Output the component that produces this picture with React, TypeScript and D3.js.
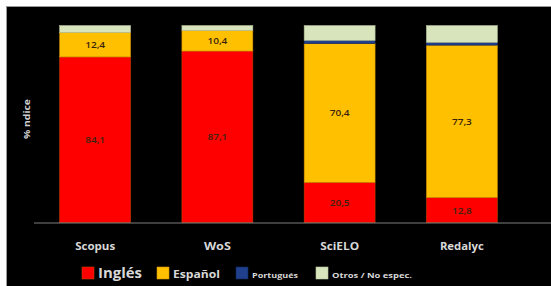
import React from 'react';
import * as d3 from 'd3';

const categories = ['Scopus', 'WoS', 'SciELO', 'Redalyc'];
const ingles = [84.1, 87.1, 20.5, 12.8];
const espanol = [12.4, 10.4, 70.4, 77.3];
const portugues = [0, 0, 1.6, 1.4];
const otros = [3.5, 2.5, 7.5, 8.5];

const seriesKeys = ['Inglés', 'Español', 'Portugués', 'Otros / No espec.'];
const seriesColors = ['#ff0000', '#ffc000', '#203f8c', '#d8e4bc'];
const seriesStroke = ['#c04000', '#d09000', '#10285c', '#b8c49c'];
const legendFont = [14, 10.5, 7, 7.5];
const legendWidth = [44, 47, 46, 80];
const catWidth = [40, 27, 39, 44];

const W = 551;
const H = 286;

export default function App() {
  const rows = categories.map((c, i) => ({
    cat: c,
    'Inglés': ingles[i],
    'Español': espanol[i],
    'Portugués': portugues[i],
    'Otros / No espec.': otros[i],
  }));
  const stacked = d3.stack<any>().keys(seriesKeys)(rows);

  const x = d3.scaleBand().domain(categories).range([34, 523]).paddingInner(0.42).paddingOuter(0.21);
  const y = d3.scaleLinear().domain([0, 100]).range([222.7, 25.6]);

  const labelValues = [ingles, espanol];

  // legend layout
  const legendX = [82, 157, 236, 316];

  return (
    <svg width={W} height={H} style={{ position: 'absolute', left: 0, top: 0, background: '#fff' }}
      fontFamily="'Open Sans', Lato, sans-serif">
      <rect x={6} y={6} width={W - 6} height={H - 6} fill="#000" />
      <line x1={6} x2={W} y1={6.5} y2={6.5} stroke="#999" strokeWidth={1} />
      <line x1={6.5} x2={6.5} y1={6} y2={H} stroke="#999" strokeWidth={1} />

      {stacked.map((s, si) => (
        <g key={s.key}>
          {s.map((d, i) => {
            const h = y(d[0]) - y(d[1]);
            if (h <= 0) return null;
            return (
              <rect key={i} x={x(categories[i])!} y={y(d[1])} width={x.bandwidth()} height={h}
                fill={seriesColors[si]} stroke={seriesStroke[si]} strokeWidth={0.6} />
            );
          })}
        </g>
      ))}

      {labelValues.map((vals, si) =>
        stacked[si].map((d, i) => (
          <text key={si + '-' + i} x={x(categories[i])! + x.bandwidth() / 2} y={(y(d[0]) + y(d[1])) / 2 + 3.5}
            textAnchor="middle" fontSize={9} fill="#3a2410" fontWeight="600"
            textLength={20} lengthAdjust="spacingAndGlyphs">
            {String(vals[i]).replace('.', ',')}
          </text>
        ))
      )}

      <line x1={34} x2={W} y1={223} y2={223} stroke="#7f7f7f" strokeWidth={1.2} />

      {categories.map((c, i) => (
        <text key={c} x={x(c)! + x.bandwidth() / 2 - catWidth[i] / 2} y={250} fontSize={10}
          fontWeight="bold" fill="#d8d8d8" textLength={catWidth[i]} lengthAdjust="spacingAndGlyphs">
          {c}
        </text>
      ))}

      <text transform="translate(30,119) rotate(-90)" x={-20} fontSize={8} fontWeight="bold" fill="#d0d0d0"
        textLength={40} lengthAdjust="spacingAndGlyphs">
        % ndice
      </text>

      {seriesKeys.map((k, i) => (
        <g key={k} transform={`translate(${legendX[i]},267)`}>
          <rect width={12} height={12} fill={seriesColors[i]} stroke={seriesStroke[i]} strokeWidth={0.6} />
          <text x={16} y={11} fontSize={legendFont[i]} fontWeight="bold" fill="#d8d8d8"
            textLength={legendWidth[i]} lengthAdjust="spacingAndGlyphs">
            {k}
          </text>
        </g>
      ))}
    </svg>
  );
}
